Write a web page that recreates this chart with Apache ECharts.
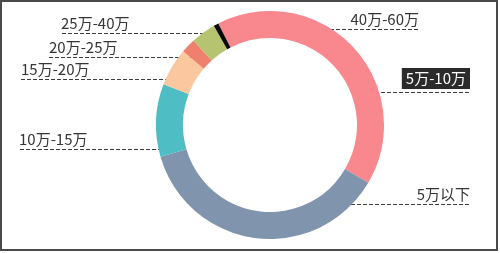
<!DOCTYPE html>
<html>
<head>
<meta charset="utf-8">
<script src="https://cdn.jsdelivr.net/npm/echarts@6/dist/echarts.min.js"></script>
<style>
html,body{margin:0;padding:0;background:#fff;}
#chart{width:500px;height:253px;}
</style>
</head>
<body>
<div id="chart"></div>
<script>
// Data (clockwise from the top, starting after the thin black slice)
const categories = ['5万-10万', '5万以下', '10万-15万', '15万-20万', '20万-25万', '25万-40万', '40万-60万'];
const shares = [41.0, 37.1, 10.3, 5.4, 2.1, 3.5, 0.7];
const colors = ['#f8878e', '#8094ae', '#4ebec4', '#fbc79e', '#f0806e', '#b6c470', '#0a0a0a'];

// Label guide layout (annotation placement, not data)
const labelGuide = {
  '5万-10万':  { side: 'right', lineY: 92,  from: 369, to: 470 },
  '5万以下':   { side: 'right', lineY: 204, from: 321, to: 470 },
  '10万-15万': { side: 'left',  lineY: 149, from: 168, to: 18 },
  '15万-20万': { side: 'left',  lineY: 79,  from: 169, to: 20 },
  '20万-25万': { side: 'left',  lineY: 57,  from: 197, to: 48 },
  '25万-40万': { side: 'left',  lineY: 33,  from: 210, to: 60 },
  '40万-60万': { side: 'right', lineY: 29,  from: 228, to: 419 }
};
const highlighted = '5万-10万';

const chart = echarts.init(document.getElementById('chart'), null, { renderer: 'canvas' });

const seriesData = categories.map((name, i) => {
  const item = { name: name, value: shares[i], itemStyle: { color: colors[i] } };
  if (name === highlighted) {
    item.label = { color: '#ffffff', backgroundColor: '#2b2b2b', padding: [3, 4, 3, 4] };
  }
  return item;
});

chart.setOption({
  animation: false,
  graphic: [{
    type: 'rect',
    shape: { x: 1, y: 1, width: 496, height: 249 },
    style: { fill: 'none', stroke: '#4a4a4a', lineWidth: 2 },
    silent: true
  }],
  series: [{
    type: 'pie',
    center: [270, 125],
    radius: [87, 114],
    startAngle: 117,
    clockwise: true,
    avoidLabelOverlap: false,
    emphasis: { disabled: true },
    label: {
      show: true,
      position: 'outside',
      formatter: '{b}',
      fontFamily: 'Noto Sans CJK SC',
      fontSize: 15,
      color: '#353535'
    },
    labelLine: {
      show: true,
      length: 5,
      length2: 10,
      lineStyle: { color: '#3c3c3c', width: 1.2, type: [4, 2] }
    },
    labelLayout: function (params) {
      const name = categories[params.dataIndex];
      const g = labelGuide[name];
      const y = g.lineY + 0.5;
      const isHi = name === highlighted;
      return {
        x: g.side === 'left' ? g.to + 1 : g.to,
        y: g.lineY - (isHi ? 3 : 2),
        align: g.side === 'left' ? 'left' : 'right',
        verticalAlign: 'bottom',
        labelLinePoints: [[g.from, y], [g.from, y], [g.to, y]]
      };
    },
    data: seriesData
  }]
});
</script>
</body>
</html>
